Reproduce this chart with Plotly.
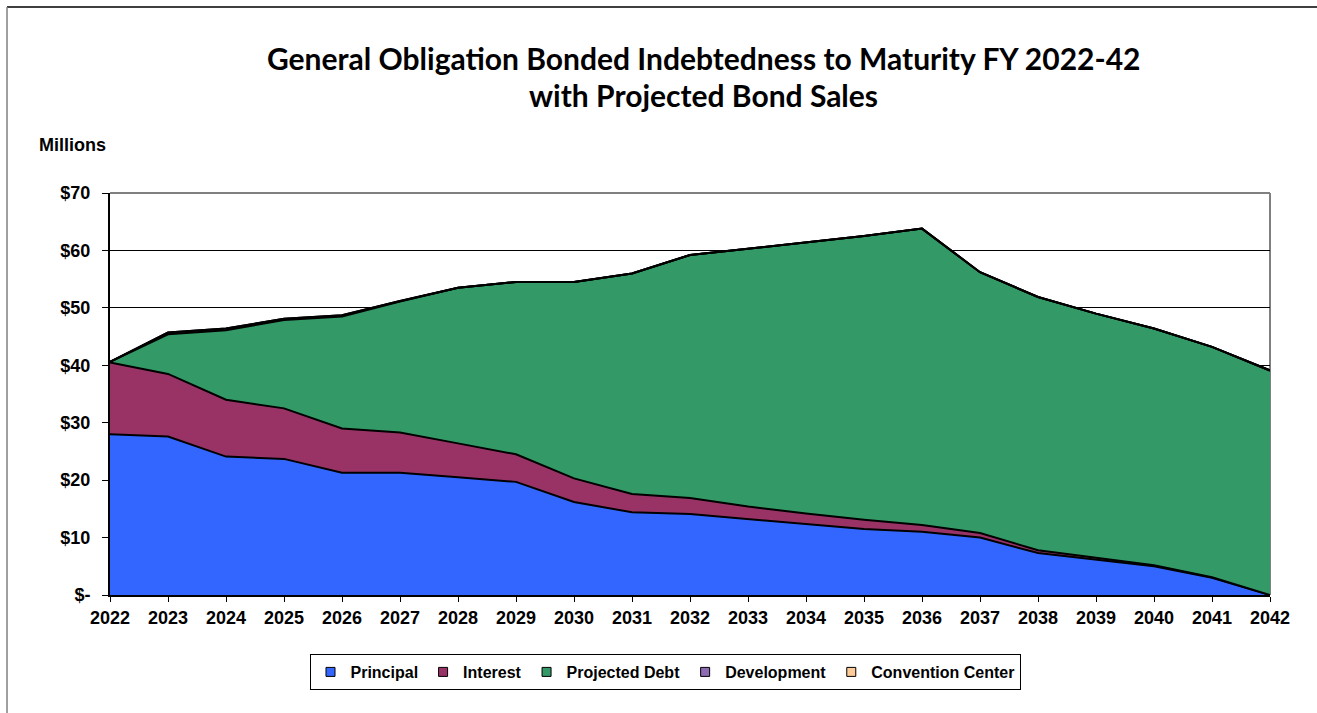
import plotly.graph_objects as go

years = list(range(2022, 2043))
principal = [28.0, 27.6, 24.1, 23.7, 21.3, 21.3, 20.5, 19.7, 16.2, 14.4, 14.1,
             13.2, 12.3, 11.5, 11.0, 10.0, 7.3, 6.2, 5.0, 3.0, 0.0]
interest = [12.5, 10.9, 9.9, 8.8, 7.7, 7.0, 5.9, 4.8, 4.1, 3.2, 2.8,
            2.2, 1.9, 1.6, 1.2, 0.8, 0.5, 0.3, 0.2, 0.1, 0.0]
projected_debt = [0.1, 6.9, 12.1, 15.4, 19.5, 22.8, 27.1, 30.0, 34.2, 38.4, 42.3,
                  44.9, 47.3, 49.4, 51.6, 45.4, 44.1, 42.5, 41.2, 40.1, 39.1]
development = [0.0, 0.3, 0.3, 0.2, 0.2, 0.1, 0.0, 0.0, 0.0, 0.0, 0.0,
               0.0, 0.0, 0.0, 0.0, 0.0, 0.0, 0.0, 0.0, 0.0, 0.0]
convention_center = [0.0] * 21

y_tickvals = [0, 10, 20, 30, 40, 50, 60, 70]
y_ticktext = ["$-", "$10", "$20", "$30", "$40", "$50", "$60", "$70"]

series = [
    ("Principal", principal, "#3366FF"),
    ("Interest", interest, "#993366"),
    ("Projected Debt", projected_debt, "#339966"),
    ("Development", development, "#8E6BB5"),
    ("Convention Center", convention_center, "#FFCC99"),
]

fig = go.Figure()
for name, vals, col in series:
    fig.add_trace(go.Scatter(
        x=years, y=vals, name=name, mode="lines", stackgroup="one",
        line=dict(color="black", width=2), fillcolor=col,
        hoverinfo="x+y+name", showlegend=False, legendgroup=name,
    ))
# legend entries with small square swatches
for name, vals, col in series:
    fig.add_trace(go.Scatter(
        x=[None], y=[None], name=name, mode="markers", legendgroup=name,
        marker=dict(symbol="square", size=9, color=col,
                    line=dict(color="black", width=1)),
        showlegend=True,
    ))

F = "Liberation Sans"
L, R, T, B = 110, 47, 193, 118
W, H = 1317, 713
pw, ph = W - L - R, H - T - B

def px(x):
    return (x - L) / pw

def py(y):
    return (H - B - y) / ph

fig.update_layout(
    width=W, height=H,
    margin=dict(l=L, r=R, t=T, b=B, pad=0),
    paper_bgcolor="white", plot_bgcolor="white",
    showlegend=True,
    legend=dict(
        orientation="h", x=px(665), y=py(672), xanchor="center", yanchor="middle",
        bordercolor="black", borderwidth=1, bgcolor="white",
        font=dict(family=F, size=16, color="black", weight="bold"),
        traceorder="normal", itemwidth=30,
    ),
    xaxis=dict(
        range=[2022, 2042], tickmode="array", tickvals=years,
        ticktext=[str(y) for y in years],
        ticks="outside", ticklen=5, tickcolor="black", tickwidth=1,
        showline=True, linecolor="black", linewidth=2,
        showgrid=False, zeroline=False,
        tickfont=dict(family=F, size=18, color="black", weight="bold"),
    ),
    yaxis=dict(
        range=[0, 70], tickmode="array", tickvals=y_tickvals, ticktext=y_ticktext,
        ticks="outside", ticklen=6, tickcolor="black", tickwidth=1,
        showline=True, linecolor="black", linewidth=2,
        showgrid=True, gridcolor="black", gridwidth=1, zeroline=False,
        ticklabelstandoff=8,
        tickfont=dict(family=F, size=18, color="black", weight="bold"),
    ),
    shapes=[
        dict(type="line", xref="paper", yref="paper", x0=0, x1=1, y0=1, y1=1,
             line=dict(color="#808080", width=2), layer="below"),
        dict(type="line", xref="paper", yref="paper", x0=1, x1=1, y0=0, y1=1,
             line=dict(color="#808080", width=2), layer="below"),
        dict(type="line", xref="paper", yref="paper", x0=px(7), x1=px(1330),
             y0=py(7), y1=py(7), line=dict(color="black", width=1.5)),
        dict(type="line", xref="paper", yref="paper", x0=px(7), x1=px(7),
             y0=py(7), y1=py(720), line=dict(color="#808080", width=1.5)),
    ],
    annotations=[
        dict(text="General Obligation Bonded Indebtedness to Maturity FY 2022-42",
             xref="paper", yref="paper", x=px(703), y=py(58), xanchor="center",
             yanchor="middle", showarrow=False,
             font=dict(family="Lato", size=30, color="black", weight="bold")),
        dict(text="with Projected Bond Sales",
             xref="paper", yref="paper", x=px(703), y=py(95), xanchor="center",
             yanchor="middle", showarrow=False,
             font=dict(family="Lato", size=30, color="black", weight="bold")),
        dict(text="Millions", xref="paper", yref="paper", x=px(72), y=py(145),
             xanchor="center", yanchor="middle", showarrow=False,
             font=dict(family=F, size=18, color="black", weight="bold")),
    ],
)

fig.write_html("out.html", config={"displayModeBar": False})
